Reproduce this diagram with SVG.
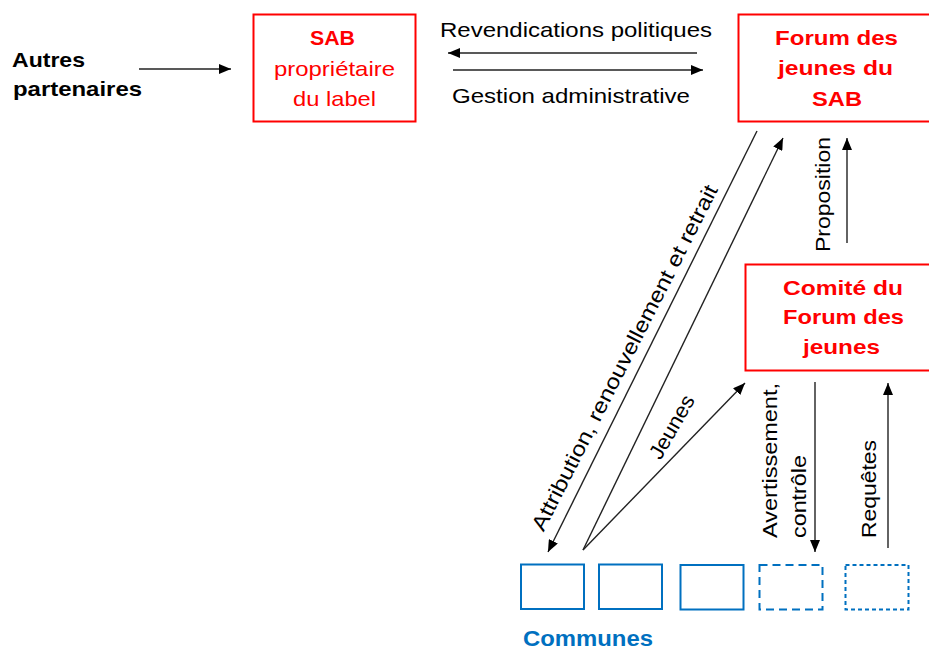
<svg xmlns="http://www.w3.org/2000/svg" width="929" height="646" viewBox="0 0 929 646">
<style>
text{font-family:"Liberation Sans",Arial,sans-serif;font-size:21px;fill:#000}
.b{font-weight:bold}
.red{fill:#FF0000}
.blue{fill:#0070C0}
.rbox{fill:#fff;stroke:#FF0000;stroke-width:2}
.cbox{fill:#fff;stroke:#0070C0;stroke-width:2}
.ln{fill:none;stroke:#222;stroke-width:1.4}
</style>
<defs>
<marker id="ah" viewBox="0 0 12 10" refX="12" refY="5" markerWidth="12" markerHeight="10" markerUnits="userSpaceOnUse" orient="auto"><path d="M0,0 L12,5 L0,10 z" fill="#000"/></marker>
</defs>
<rect width="929" height="646" fill="#fff"/>
<g id="autres">
<text class="b" x="12" y="67" textLength="73" lengthAdjust="spacingAndGlyphs">Autres</text>
<text class="b" x="13" y="96" textLength="129" lengthAdjust="spacingAndGlyphs">partenaires</text>
</g>
<g id="sab">
<rect class="rbox" x="253.5" y="14.5" width="162" height="107"/>
<text class="b red" x="310" y="45" textLength="45" lengthAdjust="spacingAndGlyphs">SAB</text>
<text class="red" x="274" y="76" textLength="121" lengthAdjust="spacingAndGlyphs">propriétaire</text>
<text class="red" x="293" y="106" textLength="83" lengthAdjust="spacingAndGlyphs">du label</text>
</g>
<g id="forum">
<rect class="rbox" x="738.5" y="14.5" width="200" height="107"/>
<text class="b red" x="775" y="45" textLength="123" lengthAdjust="spacingAndGlyphs">Forum des</text>
<text class="b red" x="778" y="75" textLength="115" lengthAdjust="spacingAndGlyphs">jeunes du</text>
<text class="b red" x="812" y="106" textLength="50" lengthAdjust="spacingAndGlyphs">SAB</text>
</g>
<g id="comite">
<rect class="rbox" x="745.5" y="264.5" width="200" height="106"/>
<text class="b red" x="783" y="295" textLength="120" lengthAdjust="spacingAndGlyphs">Comité du</text>
<text class="b red" x="783" y="324" textLength="121" lengthAdjust="spacingAndGlyphs">Forum des</text>
<text class="b red" x="803" y="354" textLength="77" lengthAdjust="spacingAndGlyphs">jeunes</text>
</g>
<g id="communes">
<rect class="cbox" x="521" y="564.5" width="63" height="44.5"/>
<rect class="cbox" x="599" y="564.5" width="63" height="44.5"/>
<rect class="cbox" x="680.5" y="565" width="63" height="44.5"/>
<rect class="cbox" x="759.5" y="565" width="63" height="44.5" stroke-dasharray="8 5"/>
<rect class="cbox" x="845.5" y="565" width="63" height="44.5" stroke-dasharray="4 3"/>
<text class="b blue" x="523" y="646" style="font-size:22px" textLength="130" lengthAdjust="spacingAndGlyphs">Communes</text>
</g>
<g id="connectors">
<line class="ln" x1="139" y1="69" x2="231" y2="69" marker-end="url(#ah)"/>
<line class="ln" x1="697" y1="53" x2="448" y2="53" marker-end="url(#ah)"/>
<line class="ln" x1="453" y1="70" x2="703" y2="70" marker-end="url(#ah)"/>
<line class="ln" x1="757" y1="131" x2="548" y2="552" marker-end="url(#ah)"/>
<line class="ln" x1="583" y1="550" x2="783" y2="138" marker-end="url(#ah)"/>
<line class="ln" x1="583" y1="550" x2="745" y2="383" marker-end="url(#ah)"/>
<line class="ln" x1="847" y1="243" x2="847" y2="138" marker-end="url(#ah)"/>
<line class="ln" x1="815" y1="382" x2="815" y2="552" marker-end="url(#ah)"/>
<line class="ln" x1="888" y1="548" x2="888" y2="383" marker-end="url(#ah)"/>
</g>
<g id="labels">
<text x="440" y="36.5" textLength="272" lengthAdjust="spacingAndGlyphs">Revendications politiques</text>
<text x="452" y="102.5" textLength="238" lengthAdjust="spacingAndGlyphs">Gestion administrative</text>
<text transform="translate(631,361) rotate(-63)" text-anchor="middle" textLength="385" lengthAdjust="spacingAndGlyphs">Attribution, renouvellement et retrait</text>
<text transform="translate(678,430.5) rotate(-60)" text-anchor="middle" textLength="70" lengthAdjust="spacingAndGlyphs">Jeunes</text>
<text transform="translate(830,252) rotate(-90)" textLength="115" lengthAdjust="spacingAndGlyphs">Proposition</text>
<text transform="translate(777,538) rotate(-90)" textLength="155" lengthAdjust="spacingAndGlyphs">Avertissement,</text>
<text transform="translate(806,538) rotate(-90)" textLength="83" lengthAdjust="spacingAndGlyphs">contrôle</text>
<text transform="translate(876,538) rotate(-90)" textLength="98" lengthAdjust="spacingAndGlyphs">Requêtes</text>
</g>
</svg>
